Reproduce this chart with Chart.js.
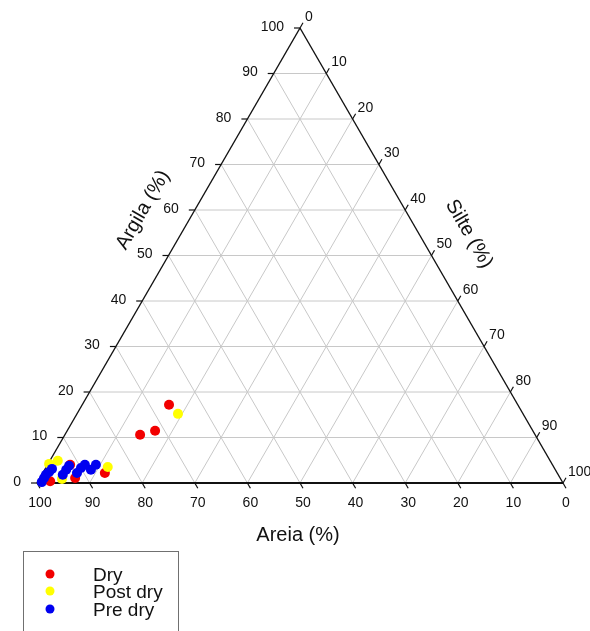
<!DOCTYPE html>
<html>
<head>
<meta charset="utf-8">
<script src="https://cdn.jsdelivr.net/npm/chart.js@4"></script>
<style>
    html, body { margin: 0; padding: 0; background: #fff; }
    #wrap { width: 590px; height: 631px; }
</style>
</head>
<body>
<div id="wrap"><canvas id="ternaryChart" width="590" height="631"></canvas></div>
<script>
// values (areia = sand, argila = clay, silte = silt, in %)
const seriesNames = ["Dry", "Post dry", "Pre dry"];
const seriesColors = ["#f20000", "#ffff00", "#0000f0"];

const dryAreia  = [75.1, 71.8, 66.3, 86.0, 92.2, 91.7, 97.3];
const dryArgila = [10.6, 11.5, 17.2, 2.2, 1.1, 4.0, 0.4];
const drySilte  = [14.3, 16.7, 16.5, 11.8, 6.7, 4.3, 2.3];

const postAreia  = [65.6, 84.8, 93.6, 95.6, 94.8];
const postArgila = [15.2, 3.5, 4.9, 4.2, 0.9];
const postSilte  = [19.2, 11.7, 1.5, 0.2, 4.3];

const preAreia  = [99.0, 98.1, 97.4, 96.5, 95.6, 94.2, 93.0, 92.0, 91.3, 90.0, 88.9, 88.3, 86.8];
const preArgila = [0.2, 1.1, 1.8, 2.4, 3.1, 1.8, 2.9, 3.8, 2.2, 3.3, 4.0, 2.9, 4.0];
const preSilte  = [0.8, 0.8, 0.8, 1.1, 1.3, 4.0, 4.1, 4.2, 6.5, 6.7, 7.1, 8.8, 9.2];

const tickValues = [0, 10, 20, 30, 40, 50, 60, 70, 80, 90, 100];

// ternary -> cartesian: x runs with silt (plus half the clay), y is clay
function toXY(areia, argila, silte) {
    return areia.map((a, i) => ({ x: silte[i] + argila[i] / 2, y: argila[i] }));
}

const FONT = "Liberation Sans, Arial, sans-serif";

const ternaryPlugin = {
    id: "ternary",
    beforeDatasetsDraw(chart) {
        const ctx = chart.ctx;
        const sx = chart.scales.x, sy = chart.scales.y;
        const P = (x, y) => [sx.getPixelForValue(x), sy.getPixelForValue(y)];
        const line = (a, b) => {
            ctx.beginPath();
            ctx.moveTo(a[0], a[1]);
            ctx.lineTo(b[0], b[1]);
            ctx.stroke();
        };

        ctx.save();
        // grid
        ctx.strokeStyle = "#c8c8c8";
        ctx.lineWidth = 1;
        for (let k = 10; k < 100; k += 10) {
            line(P(k / 2, k), P(100 - k / 2, k));                 // argila const
            line(P(100 - k, 0), P((100 - k) / 2, 100 - k));       // areia const
            line(P(k, 0), P(k + (100 - k) / 2, 100 - k));         // silte const
        }

        // edges
        const bl = P(0, 0), br = P(100, 0), top = P(50, 100);
        ctx.strokeStyle = "#111";
        ctx.lineWidth = 1.4;
        line(bl, top);
        line(top, br);
        ctx.lineWidth = 1.8;
        line(bl, br);

        // ticks + labels
        const tl = 6;
        ctx.lineWidth = 1.2;
        ctx.fillStyle = "#111";
        ctx.font = "14px " + FONT;
        tickValues.forEach(v => {
            // bottom: areia, 100 at left
            let p = P(100 - v, 0);
            let e = [p[0] + tl * 0.5, p[1] + tl * 0.866];
            line(p, e);
            ctx.textAlign = "center";
            ctx.textBaseline = "middle";
            ctx.fillText(String(v), e[0], 503);

            // left: argila
            p = P(v / 2, v);
            e = [p[0] - tl, p[1]];
            line(p, e);
            ctx.textAlign = "right";
            ctx.fillText(String(v), e[0] - 10, e[1] - 1);

            // right: silte, 0 at top
            p = P(50 + v / 2, 100 - v);
            e = [p[0] + tl * 0.5, p[1] - tl * 0.866];
            line(p, e);
            ctx.textAlign = "left";
            ctx.fillText(String(v), e[0] + 2, e[1] - 6);
        });

        // axis titles
        ctx.font = "20px " + FONT;
        ctx.textAlign = "center";
        ctx.textBaseline = "middle";
        ctx.fillText("Areia (%)", 298, 535);

        ctx.save();
        ctx.translate(143, 210);
        ctx.rotate(-Math.PI / 3);
        ctx.fillText("Argila (%)", 0, 0);
        ctx.restore();

        ctx.save();
        ctx.translate(469, 234);
        ctx.rotate(Math.PI / 3);
        ctx.fillText("Silte (%)", 0, 0);
        ctx.restore();

        // legend box
        ctx.strokeStyle = "#707070";
        ctx.lineWidth = 1;
        ctx.strokeRect(23.5, 551.5, 155, 100);
        ctx.font = "19px " + FONT;
        ctx.textAlign = "left";
        ctx.textBaseline = "alphabetic";
        const rowsY = [574, 591, 609];
        seriesNames.forEach((name, i) => {
            ctx.fillStyle = seriesColors[i];
            ctx.beginPath();
            ctx.arc(50, rowsY[i], 4.5, 0, Math.PI * 2);
            ctx.fill();
            ctx.fillStyle = "#111";
            ctx.fillText(name, 93, rowsY[i] + 7);
        });
        ctx.restore();
    }
};

const datasets = [
    { label: seriesNames[0], data: toXY(dryAreia, dryArgila, drySilte), order: 3 },
    { label: seriesNames[1], data: toXY(postAreia, postArgila, postSilte), order: 2 },
    { label: seriesNames[2], data: toXY(preAreia, preArgila, preSilte), order: 1 }
].map((d, i) => Object.assign(d, {
    backgroundColor: seriesColors[i],
    borderColor: seriesColors[i],
    borderWidth: 0,
    pointRadius: 5,
    clip: false
}));

new Chart(document.getElementById("ternaryChart"), {
    type: "scatter",
    data: { datasets },
    options: {
        responsive: false,
        animation: false,
        layout: { padding: { left: 37, right: 27, top: 28, bottom: 148 } },
        scales: {
            x: { type: "linear", min: 0, max: 100, display: false },
            y: { type: "linear", min: 0, max: 100, display: false }
        },
        plugins: {
            legend: { display: false },
            tooltip: { enabled: false }
        }
    },
    plugins: [ternaryPlugin]
});
</script>
</body>
</html>
